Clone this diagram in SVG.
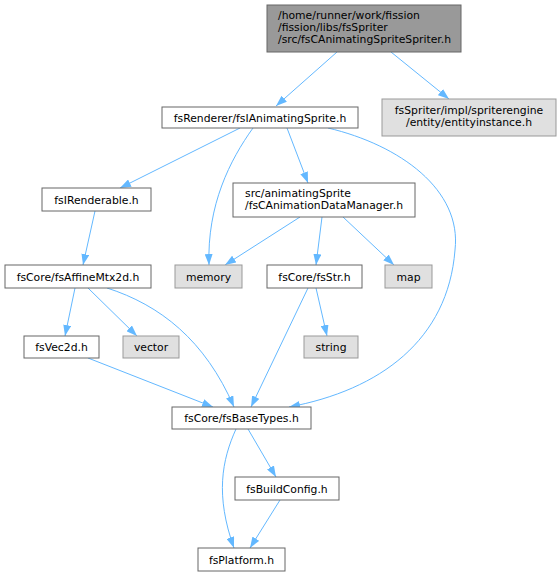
<svg xmlns="http://www.w3.org/2000/svg" width="560" height="576" viewBox="0 0 560 576">
<style>
text{font-family:"DejaVu Sans","Liberation Sans",sans-serif;font-size:10.8px;fill:#000}
.c{text-anchor:middle}
.w{fill:#fff;stroke:#666;stroke-width:1}
.g{fill:#e0e0e0;stroke:#999;stroke-width:1}
.t{fill:#999;stroke:#666;stroke-width:1}
.e{fill:none;stroke:#63b8ff;stroke-width:1;marker-end:url(#a)}
</style>
<defs>
<marker id="a" markerUnits="userSpaceOnUse" markerWidth="11" markerHeight="8" viewBox="0 0 11 8" refX="11" refY="4" orient="auto">
<path d="M0,0 L11,4 L0,8 z" fill="#63b8ff"/>
</marker>
</defs>
<rect width="560" height="576" fill="#fff"/>
<g id="edges">
<path class="e" d="M337,52 L276,106"/>
<path class="e" d="M391,52 L449,99"/>
<path class="e" d="M240,128 L120,188"/>
<path class="e" d="M253,128 C230,160 207,205 209,265"/>
<path class="e" d="M287,128 L308,183"/>
<path class="e" d="M328,128 C400,145 462,190 455,250 C448,340 380,390 289,407"/>
<path class="e" d="M95,211 L83,265"/>
<path class="e" d="M300,217 L225,265"/>
<path class="e" d="M322,217 L316,265"/>
<path class="e" d="M343,217 L394,265"/>
<path class="e" d="M75,288 L65,336"/>
<path class="e" d="M88,288 L137,336"/>
<path class="e" d="M107,288 C160,305 205,340 234,407"/>
<path class="e" d="M308,288 L251,407"/>
<path class="e" d="M316,288 L327,336"/>
<path class="e" d="M88,358 L213,407"/>
<path class="e" d="M236,429 C222,460 215,495 234,548"/>
<path class="e" d="M248,429 L276,477"/>
<path class="e" d="M280,500 L250,548"/>
</g>
<g id="n0"><rect class="t" x="267" y="5" width="194" height="47"/>
<text x="278" y="19">/home/runner/work/fission</text>
<text x="278" y="31">/fission/libs/fsSpriter</text>
<text x="278" y="43">/src/fsCAnimatingSpriteSpriter.h</text></g>
<g id="n1"><rect class="w" x="162" y="107" width="196" height="21"/><text class="c" x="260" y="121.5">fsRenderer/fsIAnimatingSprite.h</text></g>
<g id="n2"><rect class="g" x="382" y="99" width="174" height="37"/>
<text class="c" x="469" y="114">fsSpriter/impl/spriterengine</text>
<text class="c" x="469" y="126">/entity/entityinstance.h</text></g>
<g id="n3"><rect class="w" x="42" y="188" width="109" height="23"/><text class="c" x="96.5" y="203.5">fsIRenderable.h</text></g>
<g id="n4"><rect class="w" x="233" y="183" width="182" height="34"/>
<text x="245" y="197">src/animatingSprite</text>
<text x="245" y="209">/fsCAnimationDataManager.h</text></g>
<g id="n5"><rect class="w" x="5" y="265" width="146" height="23"/><text class="c" x="78" y="280.5">fsCore/fsAffineMtx2d.h</text></g>
<g id="n6"><rect class="g" x="175" y="265" width="67" height="23"/><text class="c" x="208.5" y="280.5">memory</text></g>
<g id="n7"><rect class="w" x="267" y="265" width="95" height="23"/><text class="c" x="314.5" y="280.5">fsCore/fsStr.h</text></g>
<g id="n8"><rect class="g" x="385" y="265" width="47" height="23"/><text class="c" x="408.5" y="280.5">map</text></g>
<g id="n9"><rect class="w" x="24" y="336" width="75" height="22"/><text class="c" x="61.5" y="351">fsVec2d.h</text></g>
<g id="n10"><rect class="g" x="123" y="336" width="56" height="22"/><text class="c" x="151" y="351">vector</text></g>
<g id="n11"><rect class="g" x="304" y="336" width="54" height="22"/><text class="c" x="331" y="351">string</text></g>
<g id="n12"><rect class="w" x="172" y="407" width="139" height="22"/><text class="c" x="241.5" y="422">fsCore/fsBaseTypes.h</text></g>
<g id="n13"><rect class="w" x="235" y="477" width="104" height="23"/><text class="c" x="287" y="492.5">fsBuildConfig.h</text></g>
<g id="n14"><rect class="w" x="198" y="548" width="87" height="23"/><text class="c" x="241.5" y="563.5">fsPlatform.h</text></g>
</svg>
